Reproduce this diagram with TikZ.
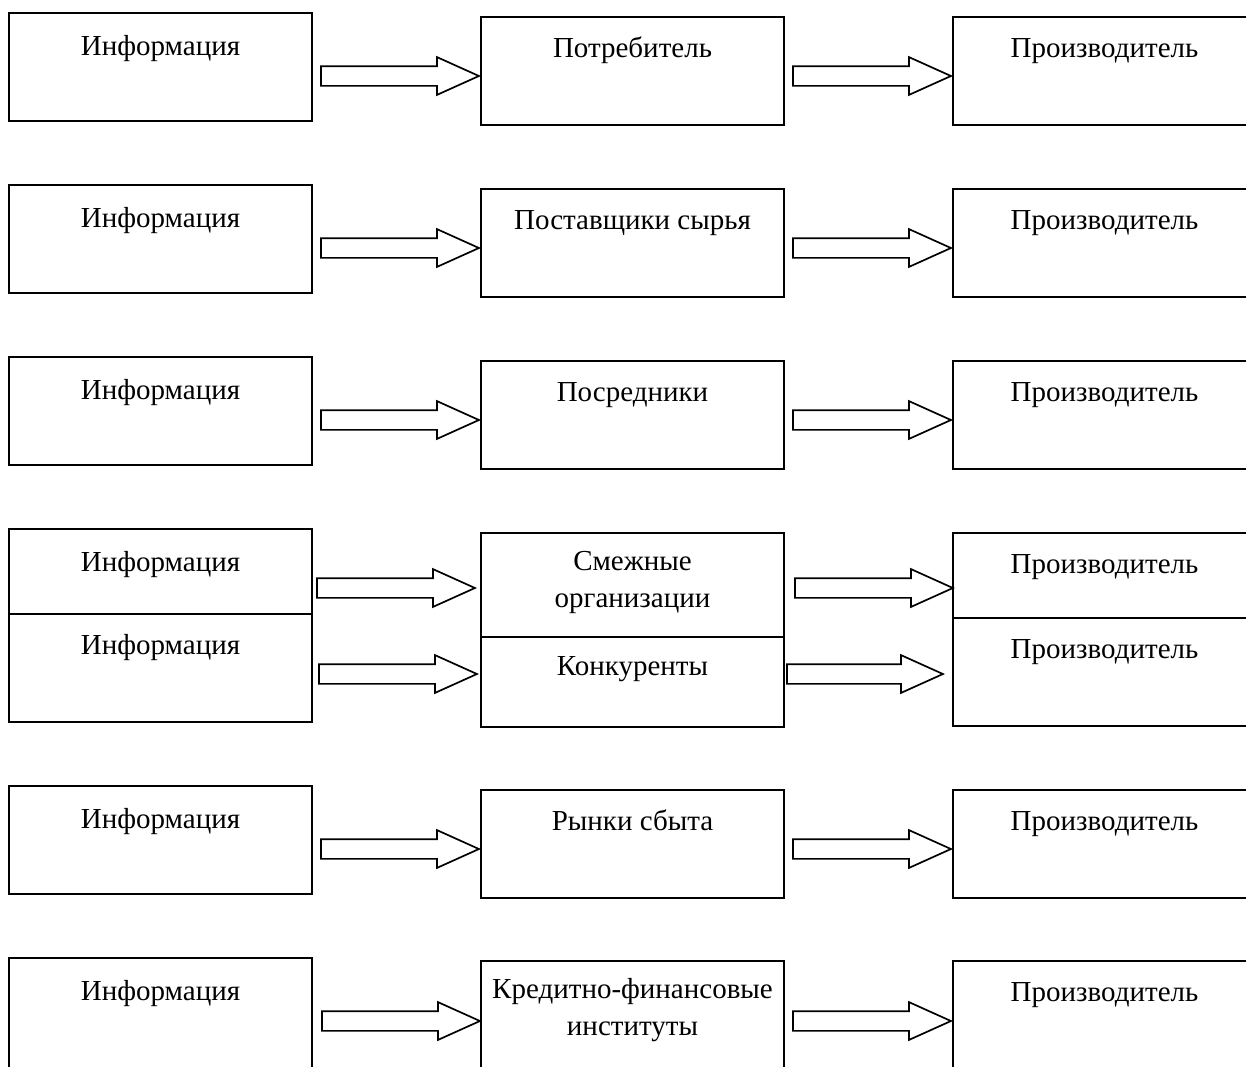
\documentclass[tikz,border=0pt]{standalone}
\usepackage{fontspec}
\setmainfont{Liberation Serif}
\usetikzlibrary{shapes.arrows,calc}
\begin{document}
\begin{tikzpicture}[x=1pt,y=-1pt,
  box/.style={draw, line width=1.2pt, fill=white, rectangle, inner sep=0pt, outer sep=0pt, anchor=north west},
  lbox/.style={box, minimum width=303pt, minimum height=108pt},
  mbox/.style={box, minimum width=303pt, minimum height=108pt},
  rbox/.style={box, minimum width=303pt, minimum height=108pt},
  lbl/.style={anchor=base, font=\fontsize{29}{37}\selectfont, align=center, inner sep=0pt},
  blockarrow/.style={single arrow, draw, line width=1.7pt, fill=white,
    minimum height=158pt, inner xsep=0pt, inner ysep=9pt,
    single arrow head extend=9pt, single arrow tip angle=48.5, anchor=tip}]
\useasboundingbox (0,0) rectangle (1246,1066);
\clip (0,0) rectangle (1246,1066);

% ---- row 1
\node[lbox] (L1) at (9,13) {};
\node[mbox] (M1) at (481,17) {};
\node[rbox] (R1) at (953,17) {};
\node[lbl] (tL1) at ($(L1.north)+(0,42)$) {Информация};
\node[lbl] (tM1) at ($(M1.north)+(0,40)$) {Потребитель};
\node[lbl] (tR1) at ($(R1.north)+(0,40)$) {Производитель};
\node[blockarrow] (aL1) at ($(M1.west)+(0,5)$) {};
\node[blockarrow] (aR1) at ($(R1.west)+(0,5)$) {};

% ---- row 2
\node[lbox] (L2) at (9,185) {};
\node[mbox] (M2) at (481,189) {};
\node[rbox] (R2) at (953,189) {};
\node[lbl] (tL2) at ($(L2.north)+(0,42)$) {Информация};
\node[lbl] (tM2) at ($(M2.north)+(0,40)$) {Поставщики сырья};
\node[lbl] (tR2) at ($(R2.north)+(0,40)$) {Производитель};
\node[blockarrow] (aL2) at ($(M2.west)+(0,5)$) {};
\node[blockarrow] (aR2) at ($(R2.west)+(0,5)$) {};

% ---- row 3
\node[lbox] (L3) at (9,357) {};
\node[mbox] (M3) at (481,361) {};
\node[rbox] (R3) at (953,361) {};
\node[lbl] (tL3) at ($(L3.north)+(0,42)$) {Информация};
\node[lbl] (tM3) at ($(M3.north)+(0,40)$) {Посредники};
\node[lbl] (tR3) at ($(R3.north)+(0,40)$) {Производитель};
\node[blockarrow] (aL3) at ($(M3.west)+(0,5)$) {};
\node[blockarrow] (aR3) at ($(R3.west)+(0,5)$) {};

% ---- row 4: two overlapping pairs
\node[lbox] (L4) at (9,529) {};
\node[mbox] (M4) at (481,533) {};
\node[rbox] (R4) at (953,533) {};
\node[lbox] (L4b) at (9,614) {};
\node[mbox, minimum height=90pt] (M4b) at (481,637) {};
\node[rbox] (R4b) at (953,618) {};
\node[lbl] (tL4) at ($(L4.north)+(0,42)$) {Информация};
\node[lbl] (tM4) at ($(M4.north)+(0,74)$) {Смежные\\организации};
\node[lbl] (tR4) at ($(R4.north)+(0,40)$) {Производитель};
\node[lbl] (tL4b) at ($(L4b.north)+(0,40)$) {Информация};
\node[lbl] (tM4b) at ($(M4b.north)+(0,38)$) {Конкуренты};
\node[lbl] (tR4b) at ($(R4b.north)+(0,40)$) {Производитель};
\node[blockarrow] (aL4) at (477,588) {};
\node[blockarrow] (aR4) at (955,588) {};
\node[blockarrow] (aL4b) at (479,674) {};
\node[blockarrow, minimum height=156pt] (aR4b) at (945,674) {};

% ---- row 5
\node[lbox] (L5) at (9,786) {};
\node[mbox] (M5) at (481,790) {};
\node[rbox] (R5) at (953,790) {};
\node[lbl] (tL5) at ($(L5.north)+(0,42)$) {Информация};
\node[lbl] (tM5) at ($(M5.north)+(0,40)$) {Рынки сбыта};
\node[lbl] (tR5) at ($(R5.north)+(0,40)$) {Производитель};
\node[blockarrow] (aL5) at ($(M5.west)+(0,5)$) {};
\node[blockarrow] (aR5) at ($(R5.west)+(0,5)$) {};

% ---- row 6 (runs past the lower edge)
\node[lbox, minimum height=120pt] (L6) at (9,958) {};
\node[mbox, minimum height=120pt] (M6) at (481,961) {};
\node[rbox, minimum height=120pt] (R6) at (953,961) {};
\node[lbl] (tL6) at ($(L6.north)+(0,42)$) {Информация};
\node[lbl] (tM6) at ($(M6.north)+(0,74)$) {Кредитно-финансовые\\институты};
\node[lbl] (tR6) at ($(R6.north)+(0,40)$) {Производитель};
\node[blockarrow] (aL6) at (482,1021) {};
\node[blockarrow] (aR6) at (953,1021) {};
\end{tikzpicture}
\end{document}
